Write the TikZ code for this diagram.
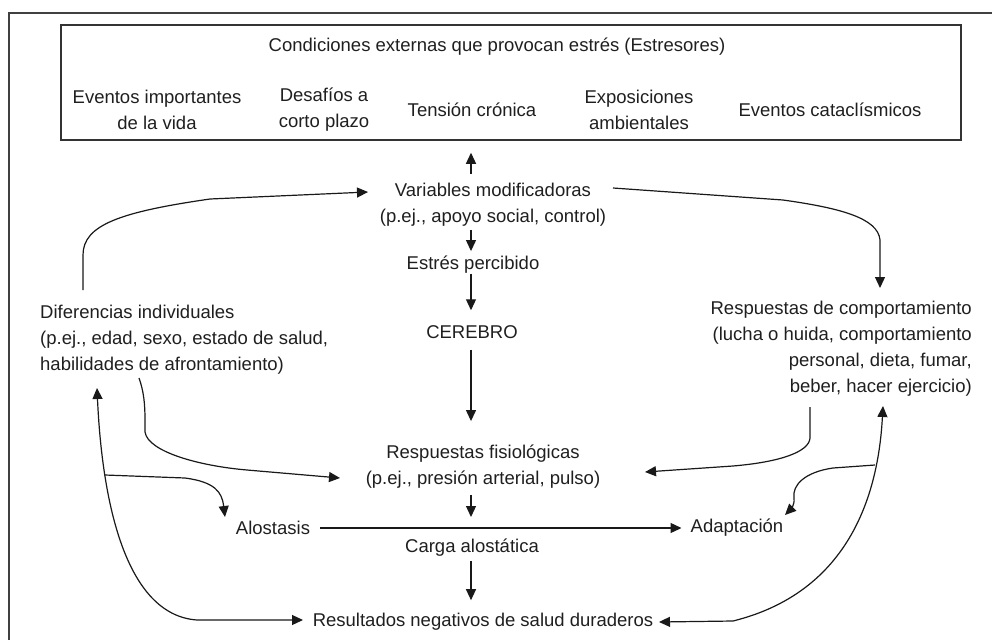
\documentclass[tikz,border=0pt]{standalone}
\usepackage{fontspec}
\setmainfont{Liberation Sans}
\usetikzlibrary{arrows.meta}
\begin{document}
\begin{tikzpicture}[x=1pt,y=-1pt,
  txt/.style={font=\fontsize{18.5}{26}\selectfont, text=black!88, inner sep=0pt},
  ln/.style={line width=1.2pt, draw=black!90},
  arr/.style={ln, -{Triangle[length=11pt,width=10pt]}},
  dbl/.style={ln, {Triangle[length=11pt,width=10pt]}-{Triangle[length=11pt,width=10pt]}}]
\useasboundingbox (0,0) rectangle (992,640);
% outer frame (partial)
\draw[line width=1.5pt, black!75] (9,640) -- (9,13) -- (992,13);
% stressor box
\node[draw=black!80, line width=1.5pt, minimum width=900pt, minimum height=115pt, inner sep=0pt] (box) at (511,82.5) {};
\node[txt] (title) at (497,47) {Condiciones externas que provocan estrés (Estresores)};
\node[txt,align=center] (e1) at (157,110) {Eventos importantes\\de la vida};
\node[txt,align=center] (e2) at (324,110) {Desafíos a\\corto plazo};
\node[txt] (e3) at (472,110) {Tensión crónica};
\node[txt,align=center] (e4) at (639,110) {Exposiciones\\ambientales};
\node[txt] (e5) at (830,110) {Eventos cataclísmicos};
% central column
\node[txt,align=center] (var) at (493,205) {Variables modificadoras\\(p.ej., apoyo social, control)};
\node[txt] (est) at (473,265) {Estrés percibido};
\node[txt] (cer) at (472,332) {CEREBRO};
\node[txt,align=center] (fis) at (483,467) {Respuestas fisiológicas\\(p.ej., presión arterial, pulso)};
\node[txt] (alo) at (273,528) {Alostasis};
\node[txt] (ada) at (737,528) {Adaptación};
\node[txt] (car) at (472,548) {Carga alostática};
\node[txt] (res) at (483,622) {Resultados negativos de salud duraderos};
% sides
\node[txt,align=left,anchor=west] (dif) at (40,340) {Diferencias individuales\\(p.ej., edad, sexo, estado de salud,\\habilidades de afrontamiento)};
\node[txt,align=right,anchor=east] (comp) at (972,349) {Respuestas de comportamiento\\(lucha o huida, comportamiento\\personal, dieta, fumar,\\beber, hacer ejercicio)};
% vertical arrows
\coordinate (ax) at (471,0);
\draw[arr, shorten <=9pt, shorten >=12pt] (var.north -| ax) -- (box.south -| ax);
\draw[arr, shorten <=3pt, shorten >=5pt] (var.south -| ax) -- (est.north -| ax);
\draw[arr, shorten <=0pt, shorten >=15pt] (est.south -| ax) -- (cer.north -| ax);
\draw[arr, shorten <=11pt, shorten >=24pt] (cer.south -| ax) -- (fis.north -| ax);
\draw[arr, shorten <=6pt, shorten >=11pt] (fis.south -| ax) -- (alo.east -| ax);
\draw[arr, shorten <=4pt, shorten >=13pt] (car.south -| ax) -- (res.north -| ax);
\draw[arr, shorten <=10pt, shorten >=9pt] (alo.east) -- (ada.west);
% curved connectors
\coordinate (difT) at (83,290);
\coordinate (varL) at (368,192);
\draw[arr] (difT) -- (83,255) .. controls (83,225) and (120,212) .. (210,199) -- (varL);
\coordinate (varR) at (613,188);
\coordinate (compT) at (880,288);
\draw[arr] (varR) -- (783,200) .. controls (840,208) and (878,218) .. (880,240) -- (compT);
\coordinate (difB) at (139,378);
\coordinate (fisL) at (340,478);
\draw[arr] (difB) .. controls (144,392) and (145,405) .. (145,420) -- (145,432) .. controls (148,452) and (200,466) .. (247,470) -- (fisL);
\coordinate (compB) at (810,407);
\coordinate (fisR) at (645,472);
\draw[arr] (compB) -- (810,438) .. controls (809,452) and (780,462) .. (733,466) -- (fisR);
\coordinate (difU) at (97,388);
\coordinate (resL) at (303,620);
\draw[dbl] (difU) .. controls (102,500) and (125,615) .. (197,620) -- (resL);
\coordinate (compU) at (883,406);
\coordinate (resR) at (659,622);
\draw[dbl] (compU) .. controls (879,480) and (858,590) .. (733,621) -- (resR);
\coordinate (brL) at (105,475);
\coordinate (aloT) at (225,517);
\draw[arr] (brL) -- (185,478) .. controls (215,482) and (222,492) .. (aloT);
\coordinate (brR) at (875,465);
\coordinate (adaT) at (785,515);
\draw[arr] (brR) -- (833,468) .. controls (805,472) and (792,485) .. (794,498) .. controls (795,505) and (790,510) .. (adaT);
\end{tikzpicture}
\end{document}
